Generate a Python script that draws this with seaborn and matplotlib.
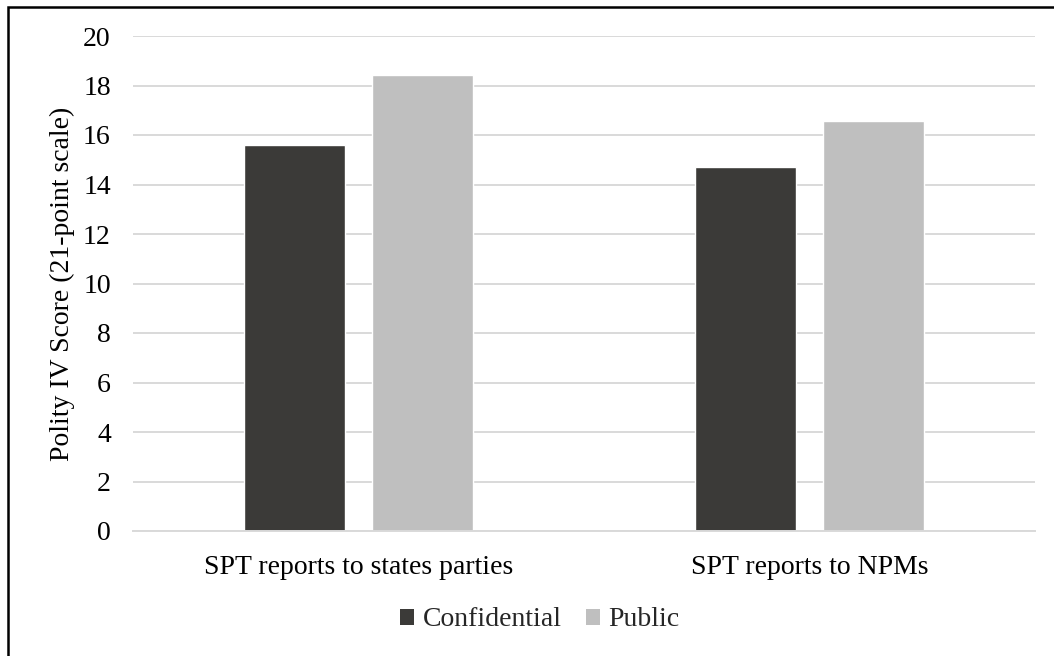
import matplotlib
matplotlib.use("Agg")
import matplotlib.pyplot as plt
import seaborn as sns
import pandas as pd
from matplotlib.patches import Rectangle, Patch

categories = ["SPT reports to states parties", "SPT reports to NPMs"]
series_names = ["Confidential", "Public"]
confidential = [15.58, 14.72]
public = [18.44, 16.57]
y_ticks = [0, 2, 4, 6, 8, 10, 12, 14, 16, 18, 20]
colors = ["#3b3a38", "#bfbfbf"]

df = pd.DataFrame({
    "category": categories * 2,
    "series": [series_names[0]] * 2 + [series_names[1]] * 2,
    "value": confidential + public,
})

sns.set_theme(style="white")
plt.rcParams["font.family"] = ["Liberation Serif", "DejaVu Serif"]

FS = 20

fig = plt.figure(figsize=(10.54, 6.56), dpi=100)
ax = fig.add_axes([133 / 1054, 1 - 531 / 656, (1035 - 133) / 1054, (531 - 36) / 656])

sns.barplot(data=df, x="category", y="value", hue="series", order=categories,
            hue_order=series_names, palette=colors, width=0.5676, gap=0.211,
            errorbar=None, ax=ax, legend=False, saturation=1)

ax.set_ylim(0, 20)
ax.set_xlim(-0.5, 1.5)
ax.set_yticks(y_ticks)
ax.yaxis.grid(True, color="#d9d9d9", linewidth=1.4)
ax.set_axisbelow(True)
for s in ["top", "right", "left"]:
    ax.spines[s].set_visible(False)
ax.spines["bottom"].set_color("#d9d9d9")
ax.spines["bottom"].set_linewidth(1.4)
ax.tick_params(axis="both", length=0, labelsize=FS, colors="black")
ax.tick_params(axis="y", pad=16)
ax.tick_params(axis="x", pad=17)
ax.set_xlabel("")
ax.set_ylabel("Polity IV Score (21-point scale)", fontsize=FS, color="black", labelpad=6)

handles = [Patch(facecolor=c, edgecolor="none") for c in colors]
fig.legend(handles, series_names, loc="center", bbox_to_anchor=(540 / 1054, 1 - 620 / 656),
           ncol=2, frameon=False, fontsize=FS, handlelength=0.5, handleheight=0.5,
           handletextpad=0.3, columnspacing=0.9)

fig.patches.append(Rectangle((8 / 1054, -0.05), 1.1, 1 - 7 / 656 + 0.05,
                             transform=fig.transFigure, fill=False,
                             edgecolor="black", linewidth=1.8, zorder=10))

fig.savefig("out.png", dpi=100, facecolor="white")
